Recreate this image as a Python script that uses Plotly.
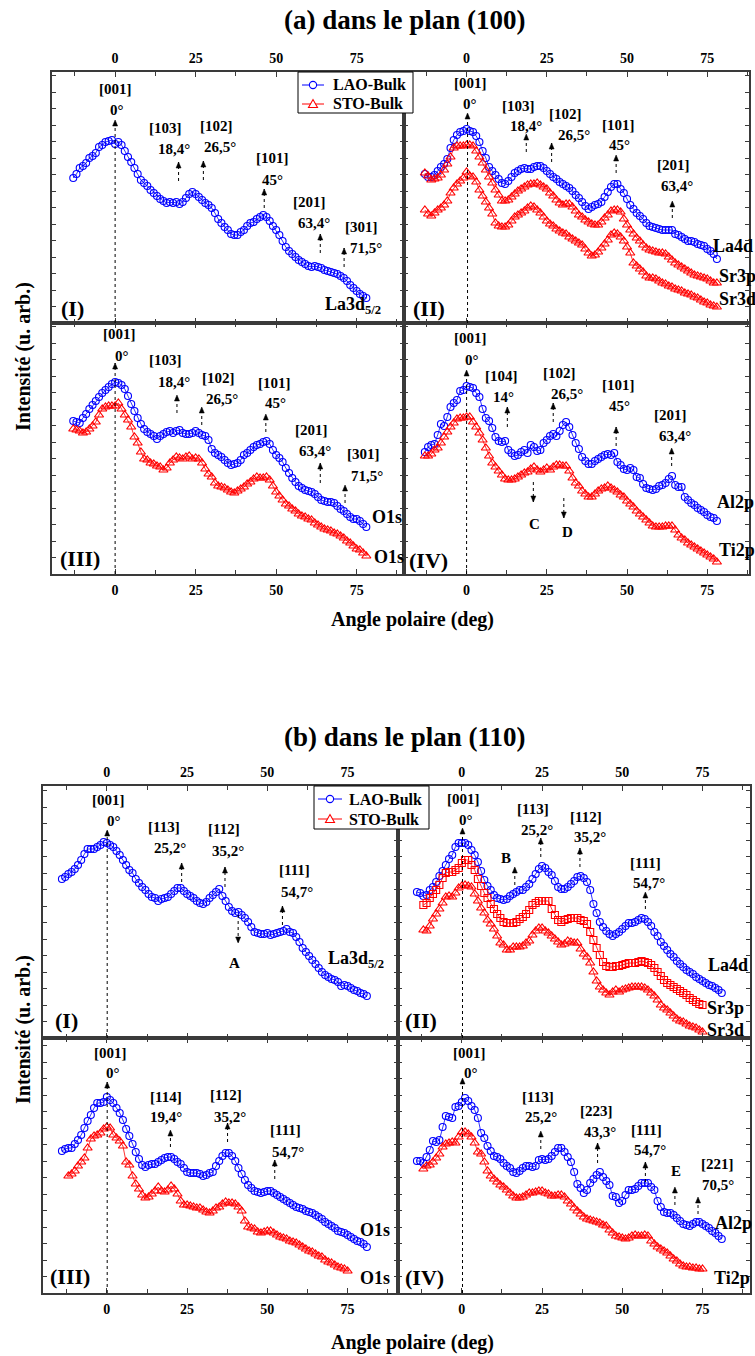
import plotly.graph_objects as go

W, H = 755, 1356
FONT = "Liberation Serif"
BLUE = "#0000FF"
RED = "#FF0000"
AXC = "#3a3a3a"


def fx(px):
    return px / W


def fy(py):
    return 1 - py / H


# ---------------- data (intensity in arbitrary units) ----------------
ANGLES_A = [-13, -12, -11, -10, -9, -8, -7, -6, -5, -4,
            -3, -2, -1, 0, 1, 2, 3, 4, 5, 6,
            7, 8, 9, 10, 11, 12, 13, 14, 15, 16,
            17, 18, 19, 20, 21, 22, 23, 24, 25, 26,
            27, 28, 29, 30, 31, 32, 33, 34, 35, 36,
            37, 38, 39, 40, 41, 42, 43, 44, 45, 46,
            47, 48, 49, 50, 51, 52, 53, 54, 55, 56,
            57, 58, 59, 60, 61, 62, 63, 64, 65, 66,
            67, 68, 69, 70, 71, 72, 73, 74, 75, 76,
            77, 78]

ANGLES_B_BLUE = [-14, -13, -12, -11, -10, -9, -8, -7, -6, -5,
                 -4, -3, -2, -1, 0, 1, 2, 3, 4, 5,
                 6, 7, 8, 9, 10, 11, 12, 13, 14, 15,
                 16, 17, 18, 19, 20, 21, 22, 23, 24, 25,
                 26, 27, 28, 29, 30, 31, 32, 33, 34, 35,
                 36, 37, 38, 39, 40, 41, 42, 43, 44, 45,
                 46, 47, 48, 49, 50, 51, 52, 53, 54, 55,
                 56, 57, 58, 59, 60, 61, 62, 63, 64, 65,
                 66, 67, 68, 69, 70, 71, 72, 73, 74, 75,
                 76, 77, 78, 79, 80, 81]

ANGLES_B_RED = [-12, -11, -10, -9, -8, -7, -6, -5, -4, -3,
                -2, -1, 0, 1, 2, 3, 4, 5, 6, 7,
                8, 9, 10, 11, 12, 13, 14, 15, 16, 17,
                18, 19, 20, 21, 22, 23, 24, 25, 26, 27,
                28, 29, 30, 31, 32, 33, 34, 35, 36, 37,
                38, 39, 40, 41, 42, 43, 44, 45, 46, 47,
                48, 49, 50, 51, 52, 53, 54, 55, 56, 57,
                58, 59, 60, 61, 62, 63, 64, 65, 66, 67,
                68, 69, 70, 71, 72, 73, 74, 75]

# (a) plan (100)
A1_LA3D = [145, 149, 155, 157, 160, 165, 167, 170, 176, 178,
           181, 182, 183, 179, 181, 178, 172, 166, 161, 155,
           149, 143, 140, 137, 133, 130, 127, 124, 122, 120,
           121, 120, 121, 119, 121, 125, 129, 131, 129, 126,
           123, 120, 118, 115, 110, 104, 100, 96, 93, 89,
           88, 88, 91, 93, 97, 100, 101, 104, 106, 108,
           106, 102, 97, 93, 88, 82, 76, 72, 69, 66,
           63, 61, 59, 57, 56, 57, 56, 55, 53, 52,
           51, 50, 49, 47, 45, 42, 38, 35, 32, 29,
           27, 25]

A2_LA4D = [149, 146, 146, 148, 152, 156, 159, 164, 175, 183,
           188, 191, 192, 194, 192, 191, 187, 181, 172, 165,
           156, 152, 148, 144, 140, 139, 142, 146, 150, 152,
           154, 155, 154, 154, 156, 157, 157, 155, 152, 149,
           146, 144, 141, 139, 137, 135, 132, 128, 125, 121,
           117, 114, 116, 118, 119, 121, 126, 131, 136, 139,
           139, 134, 130, 124, 118, 114, 110, 107, 104, 100,
           97, 96, 95, 94, 93, 93, 93, 93, 89, 88,
           86, 84, 82, 82, 81, 79, 78, 77, 74, 72,
           69, 64]

A2_SR3P = [150, 147, 143, 144, 145, 148, 153, 159, 166, 175,
           177, 177, 177, 178, 178, 177, 172, 166, 160, 153,
           146, 140, 133, 128, 122, 122, 123, 126, 129, 132,
           134, 136, 138, 139, 139, 140, 138, 136, 134, 130,
           127, 123, 120, 118, 119, 119, 116, 112, 108, 106,
           103, 101, 99, 98, 98, 101, 105, 108, 112, 113,
           113, 111, 104, 98, 93, 89, 85, 82, 78, 75,
           73, 72, 71, 70, 70, 69, 66, 63, 60, 58,
           56, 54, 52, 50, 48, 47, 46, 45, 44, 42,
           40, 40]

A2_SR3D = [113, 109, 107, 110, 113, 115, 118, 122, 130, 135,
           139, 142, 145, 151, 147, 146, 141, 133, 127, 121,
           115, 109, 100, 97, 96, 96, 98, 102, 106, 108,
           110, 112, 115, 117, 116, 113, 110, 106, 102, 99,
           97, 94, 92, 90, 89, 86, 84, 82, 80, 78,
           74, 70, 67, 68, 71, 75, 79, 83, 88, 90,
           89, 86, 82, 76, 70, 60, 57, 54, 51, 47,
           45, 45, 44, 42, 40, 39, 37, 36, 34, 33,
           32, 30, 29, 28, 26, 25, 23, 21, 20, 18,
           17, 16]

A3_O1S_LAO = [153, 152, 151, 156, 160, 165, 169, 173, 177, 181,
              184, 187, 190, 192, 191, 189, 185, 178, 170, 163,
              156, 150, 145, 142, 140, 138, 135, 138, 140, 142,
              143, 141, 143, 144, 141, 140, 140, 141, 143, 141,
              139, 138, 134, 125, 121, 119, 117, 114, 111, 109,
              110, 111, 114, 119, 121, 124, 127, 129, 130, 132,
              133, 130, 124, 119, 116, 112, 106, 101, 96, 92,
              88, 86, 84, 83, 82, 80, 77, 74, 73, 72,
              72, 71, 68, 65, 63, 60, 57, 55, 55, 53,
              50, 47]

A3_O1S_STO = [145, 144, 143, 141, 142, 145, 148, 152, 159, 165,
              167, 168, 168, 168, 171, 165, 159, 154, 147, 137,
              131, 122, 115, 114, 111, 110, 108, 107, 104, 106,
              111, 114, 117, 116, 115, 117, 118, 115, 116, 115,
              111, 105, 100, 97, 91, 88, 87, 86, 84, 82,
              81, 83, 85, 87, 90, 92, 95, 97, 96, 96,
              97, 94, 88, 82, 78, 74, 70, 68, 65, 63,
              60, 58, 57, 55, 54, 51, 49, 47, 45, 44,
              43, 41, 40, 38, 36, 33, 31, 28, 25, 24,
              21, 18]

A4_AL2P = [122, 127, 129, 130, 139, 150, 148, 157, 167, 171,
           174, 183, 184, 188, 187, 186, 181, 177, 165, 156,
           153, 146, 137, 133, 132, 133, 124, 121, 118, 119,
           122, 124, 121, 129, 127, 123, 124, 131, 134, 138,
           140, 138, 143, 149, 152, 147, 139, 131, 125, 117,
           113, 110, 110, 113, 115, 117, 119, 120, 119, 121,
           112, 109, 105, 104, 106, 104, 97, 96, 90, 86,
           85, 84, 85, 88, 89, 91, 95, 98, 89, 87,
           87, 77, 74, 71, 69, 66, 64, 62, 59, 57,
           56, 53]

A4_TI2P = [118, 118, 120, 124, 126, 131, 137, 142, 147, 151,
           155, 156, 156, 157, 157, 152, 147, 141, 134, 126,
           118, 111, 107, 103, 99, 95, 94, 94, 95, 97,
           99, 101, 102, 105, 107, 104, 102, 104, 106, 104,
           107, 109, 109, 108, 108, 103, 96, 91, 88, 83,
           80, 77, 77, 80, 83, 85, 86, 88, 86, 84,
           82, 79, 77, 73, 70, 67, 63, 60, 57, 54,
           51, 48, 47, 47, 47, 48, 48, 48, 44, 39,
           36, 34, 31, 29, 27, 25, 23, 21, 19, 17,
           15, 12]

# (b) plan (110)
B1_LA3D = [159, 161, 164, 166, 169, 173, 178, 184, 189, 189,
           189, 191, 193, 196, 195, 193, 191, 187, 183, 178,
           173, 168, 165, 159, 155, 151, 148, 144, 141, 140,
           137, 139, 140, 141, 144, 147, 150, 150, 147, 144,
           142, 140, 137, 135, 134, 136, 140, 143, 146, 149,
           142, 137, 131, 127, 125, 126, 123, 120, 116, 111,
           106, 105, 104, 104, 105, 103, 104, 105, 106, 107,
           109, 106, 105, 101, 96, 90, 86, 82, 78, 74,
           70, 66, 63, 61, 59, 58, 56, 52, 53, 52,
           50, 48, 47, 45, 44, 42]

B2_LA4D = [146, 145, 142, 143, 148, 151, 156, 162, 167, 173,
           179, 183, 191, 195, 195, 195, 193, 188, 183, 176,
           167, 158, 152, 148, 143, 140, 139, 138, 139, 142,
           144, 146, 148, 148, 151, 154, 159, 164, 169, 172,
           170, 166, 163, 157, 151, 149, 149, 151, 154, 157,
           161, 162, 160, 156, 148, 134, 125, 116, 111, 107,
           104, 102, 104, 106, 109, 112, 115, 115, 116, 118,
           120, 119, 116, 112, 106, 102, 96, 92, 88, 84,
           81, 77, 74, 71, 68, 66, 64, 61, 59, 57,
           55, 53, 52, 50, 48, 45]

B2_SR3P = [133, 135, 140, 144, 148, 153, 160, 165, 166, 166,
           168, 170, 175, 178, 178, 173, 168, 159, 152, 145,
           140, 134, 129, 124, 120, 116, 115, 115, 115, 116,
           119, 121, 124, 128, 133, 135, 137, 137, 137, 137,
           129, 123, 118, 116, 118, 119, 120, 120, 120, 118,
           117, 114, 106, 98, 90, 83, 76, 72, 71, 71,
           72, 72, 73, 74, 75, 75, 75, 76, 77, 76,
           75, 73, 70, 66, 62, 58, 55, 53, 51, 49,
           47, 45, 43, 40, 38, 36, 34, 33]

B2_SR3D = [108, 107, 112, 119, 124, 129, 135, 141, 142, 141,
           145, 150, 152, 153, 152, 151, 144, 137, 130, 125,
           118, 114, 109, 102, 95, 93, 88, 88, 91, 91,
           91, 92, 95, 97, 103, 107, 110, 110, 107, 105,
           102, 99, 96, 93, 94, 97, 96, 95, 95, 89,
           84, 81, 75, 66, 57, 51, 48, 45, 43, 46,
           48, 46, 48, 49, 50, 51, 51, 51, 51, 50,
           48, 45, 42, 38, 33, 30, 28, 25, 22, 19,
           17, 16, 14, 12, 11, 10, 8, 6]

B3_O1S_LAO = [142, 144, 145, 145, 149, 153, 158, 165, 172, 178,
              185, 190, 190, 191, 196, 193, 190, 185, 180, 173,
              164, 157, 149, 141, 134, 128, 126, 128, 129, 129,
              131, 133, 135, 136, 136, 134, 131, 129, 125, 121,
              120, 120, 120, 119, 117, 118, 120, 121, 127, 132,
              137, 140, 140, 137, 132, 125, 119, 113, 108, 105,
              102, 101, 100, 101, 102, 102, 100, 98, 96, 94,
              92, 90, 88, 86, 85, 84, 82, 81, 80, 78,
              76, 74, 71, 69, 67, 65, 62, 61, 60, 58,
              56, 54, 52, 51, 49, 46]

B3_O1S_STO = [117, 119, 122, 127, 131, 135, 145, 154, 157, 158,
              160, 164, 166, 165, 158, 155, 152, 147, 131, 128,
              117, 109, 104, 98, 95, 96, 99, 102, 106, 102,
              101, 103, 107, 104, 99, 92, 88, 88, 87, 86,
              85, 85, 83, 81, 80, 82, 85, 86, 89, 91,
              90, 90, 89, 86, 82, 72, 66, 65, 64, 61,
              60, 61, 62, 62, 60, 58, 56, 55, 54, 52,
              51, 50, 48, 46, 44, 42, 41, 39, 37, 36,
              33, 31, 30, 28, 26, 25, 24, 22]

B4_AL2P = [132, 132, 130, 136, 143, 152, 151, 153, 166, 177,
           176, 175, 186, 187, 191, 195, 192, 187, 183, 175,
           160, 155, 147, 142, 137, 136, 134, 130, 127, 125,
           121, 120, 122, 125, 127, 127, 126, 127, 133, 134,
           133, 134, 137, 141, 145, 145, 141, 136, 131, 121,
           109, 105, 100, 103, 110, 114, 118, 121, 116, 112,
           108, 97, 96, 90, 92, 98, 103, 103, 104, 107,
           110, 110, 110, 106, 103, 92, 86, 81, 80, 80,
           78, 75, 72, 69, 68, 67, 69, 71, 71, 69,
           67, 65, 62, 60, 57, 54]

B4_TI2P = [124, 127, 128, 131, 135, 139, 146, 149, 150, 151,
           150, 156, 161, 161, 159, 156, 150, 141, 139, 131,
           122, 117, 114, 111, 108, 106, 103, 100, 97, 95,
           95, 96, 98, 100, 100, 101, 102, 102, 100, 99,
           97, 97, 98, 98, 96, 92, 89, 85, 82, 79,
           76, 74, 73, 72, 71, 70, 68, 67, 63, 60,
           57, 56, 55, 54, 55, 57, 58, 57, 57, 58,
           57, 52, 49, 46, 44, 42, 40, 37, 34, 32,
           29, 27, 26, 26, 25, 25, 24, 24]

TICKS = [0, 25, 50, 75]
LEGEND_NAMES = ["LAO-Bulk", "STO-Bulk"]

# ---------------- layout geometry (pixels) ----------------
# id, x0, x1, y0, y1, x-range, y-max, side of x labels
PANELS = [
    (1, 52, 404, 72, 323, [-19.6, 89.7], 251, "top"),
    (2, 404, 749, 72, 323, [-19.5, 88.0], 251, "top"),
    (3, 52, 404, 323, 574, [-19.6, 89.7], 251, "bottom"),
    (4, 404, 749, 323, 574, [-19.5, 88.0], 251, "bottom"),
    (5, 43, 398, 786, 1038, [-19.9, 90.7], 252, "top"),
    (6, 398, 750, 786, 1038, [-19.9, 89.8], 252, "top"),
    (7, 43, 398, 1038, 1293, [-19.9, 90.7], 255, "bottom"),
    (8, 398, 750, 1038, 1293, [-19.9, 89.8], 255, "bottom"),
]


def ax(i, kind):
    return kind if i == 1 else f"{kind}{i}"


fig = go.Figure()


def add_series(panel, x, y, color, symbol, size=7, name=""):
    fig.add_trace(go.Scatter(
        x=x, y=y, xaxis=ax(panel, "x"), yaxis=ax(panel, "y"),
        mode="lines+markers",
        line=dict(color=color, width=0.8),
        marker=dict(symbol=symbol, size=size, color=color,
                    line=dict(color=color, width=1.1)),
        name=name, showlegend=False, cliponaxis=False))


add_series(1, ANGLES_A, A1_LA3D, BLUE, "circle-open", name="La3d5/2 LAO-Bulk")
add_series(2, ANGLES_A, A2_LA4D, BLUE, "circle-open", name="La4d LAO-Bulk")
add_series(2, ANGLES_A, A2_SR3P, RED, "triangle-up-open", 8, name="Sr3p STO-Bulk")
add_series(2, ANGLES_A, A2_SR3D, RED, "triangle-up-open", 8, name="Sr3d STO-Bulk")
add_series(3, ANGLES_A, A3_O1S_LAO, BLUE, "circle-open", name="O1s LAO-Bulk")
add_series(3, ANGLES_A, A3_O1S_STO, RED, "triangle-up-open", 8, name="O1s STO-Bulk")
add_series(4, ANGLES_A, A4_AL2P, BLUE, "circle-open", name="Al2p LAO-Bulk")
add_series(4, ANGLES_A, A4_TI2P, RED, "triangle-up-open", 8, name="Ti2p STO-Bulk")

add_series(5, ANGLES_B_BLUE, B1_LA3D, BLUE, "circle-open", name="La3d5/2 LAO-Bulk")
add_series(6, ANGLES_B_BLUE, B2_LA4D, BLUE, "circle-open", name="La4d LAO-Bulk")
add_series(6, ANGLES_B_RED, B2_SR3P, RED, "square-open", 7, name="Sr3p STO-Bulk")
add_series(6, ANGLES_B_RED, B2_SR3D, RED, "triangle-up-open", 8, name="Sr3d STO-Bulk")
add_series(7, ANGLES_B_BLUE, B3_O1S_LAO, BLUE, "circle-open", name="O1s LAO-Bulk")
add_series(7, ANGLES_B_RED, B3_O1S_STO, RED, "triangle-up-open", 8, name="O1s STO-Bulk")
add_series(8, ANGLES_B_BLUE, B4_AL2P, BLUE, "circle-open", name="Al2p LAO-Bulk")
add_series(8, ANGLES_B_RED, B4_TI2P, RED, "triangle-up-open", 8, name="Ti2p STO-Bulk")

# ---------------- axes ----------------
tickfont = dict(family=FONT, size=14, color="black", weight="bold")
for (i, x0, x1, y0, y1, xr, ymax, side) in PANELS:
    fig.layout[ax(i, "xaxis")] = dict(
        domain=[fx(x0), fx(x1)], range=xr, anchor=ax(i, "y"), side=side,
        tickmode="array", tickvals=TICKS, ticks="inside", ticklen=5,
        tickcolor=AXC, tickwidth=1,
        minor=dict(dtick=12.5, tick0=0, ticks="inside", ticklen=4, tickcolor=AXC),
        showline=True, linecolor=AXC, linewidth=1.5, mirror="ticks",
        showgrid=False, zeroline=False, tickfont=tickfont, ticklabelstandoff=2)
    fig.layout[ax(i, "yaxis")] = dict(
        domain=[fy(y1), fy(y0)], range=[0, ymax], anchor=ax(i, "x"),
        showticklabels=False, ticks="inside", ticklen=4, tickcolor=AXC,
        dtick=16.5, tick0=0,
        showline=True, linecolor=AXC, linewidth=1.5, mirror="ticks",
        showgrid=False, zeroline=False)

# ---------------- annotations ----------------
# labels: (text, x, y) ; arrows: (x, y_tail, y_head) ; zero line head (x, y)
ANN = {
    1: dict(labels=[("[001]", 0.2, 234), ("0°", 0.6, 213), ("[103]", 15.7, 195), ("18,4°", 18.3, 174),
                    ("[102]", 31.4, 197), ("26,5°", 32.6, 176), ("[101]", 49.0, 165), ("45°", 48.9, 143),
                    ("[201]", 60.4, 121), ("63,4°", 61.6, 100), ("[301]", 76.6, 96), ("71,5°", 77.9, 75)],
            arrows=[(19.7, 142, 161), (27.4, 143, 162), (46.3, 115, 134), (63.7, 70, 89), (71.1, 56, 75)],
            zero=(0.0, 203),
            curves=[("La3d<sub>5/2</sub>", 64.6, 17)], roman=("(I)", -17.4, 14)),
    2: dict(labels=[("[001]", 1.2, 240), ("0°", 1.2, 219), ("[103]", 16.1, 217), ("18,4°", 18.6, 197),
                    ("[102]", 30.8, 209), ("26,5°", 33.4, 188), ("[101]", 47.2, 198), ("45°", 47.5, 178),
                    ("[201]", 64.6, 158), ("63,4°", 65.6, 137)],
            arrows=[(18.6, 171, 189), (26.5, 161, 180), (46.6, 150, 168), (64.1, 105, 122)],
            zero=(0.3, 210),
            curves=[("La4d", 76.3, 77), ("Sr3p", 78.1, 47), ("Sr3d", 78.1, 24)], roman=("(II)", -17.4, 14)),
    3: dict(labels=[("[001]", 1.3, 240), ("0°", 2.0, 218), ("[103]", 15.7, 214), ("18,4°", 18.3, 192),
                    ("[102]", 32.1, 196), ("26,5°", 33.1, 175), ("[101]", 49.4, 191), ("45°", 49.7, 171),
                    ("[201]", 60.9, 144), ("63,4°", 62.1, 123), ("[301]", 77.1, 120), ("71,5°", 78.2, 98)],
            arrows=[(19.2, 161, 179), (26.9, 149, 167), (46.8, 142, 160), (63.7, 91, 111), (71.4, 71, 89)],
            zero=(0.0, 211),
            curves=[("O1s", 79.0, 57), ("O1s", 79.7, 17)], roman=("(III)", -17.7, 16)),
    4: dict(labels=[("[001]", 1.2, 236), ("0°", 1.6, 214), ("[104]", 10.9, 198), ("14°", 11.4, 177),
                    ("[102]", 28.8, 201), ("26,5°", 31.4, 180), ("[101]", 47.2, 189), ("45°", 47.5, 168),
                    ("[201]", 63.6, 159), ("63,4°", 64.9, 138), ("C", 21.2, 50), ("D", 31.4, 42)],
            arrows=[(12.7, 147, 167), (27.0, 152, 171), (46.6, 128, 147), (63.9, 108, 126),
                    (20.8, 92, 72), (30.3, 76, 56)],
            zero=(0.0, 204),
            curves=[("Al2p", 77.4, 72), ("Ti2p", 78.1, 24)], roman=("(IV)", -18.6, 14)),
    5: dict(labels=[("[001]", 0.4, 238), ("0°", 2.2, 217), ("[113]", 17.8, 211), ("25,2°", 19.6, 190),
                    ("[112]", 36.4, 209), ("35,2°", 37.8, 187), ("[111]", 58.3, 168), ("54,7°", 59.3, 146),
                    ("A", 39.7, 75)],
            arrows=[(23.3, 156, 175), (36.8, 151, 171), (54.7, 113, 132), (40.9, 123, 95)],
            zero=(0.1, 208),
            curves=[("La3d<sub>5/2</sub>", 68.2, 79)], roman=("(I)", -16.8, 18)),
    6: dict(labels=[("[001]", 0.6, 239), ("0°", 1.2, 218), ("[113]", 22.2, 229), ("25,2°", 23.3, 208),
                    ("[112]", 38.8, 221), ("35,2°", 39.9, 201), ("[111]", 57.3, 175), ("54,7°", 58.4, 155),
                    ("B", 13.7, 180)],
            arrows=[(24.6, 181, 200), (36.8, 171, 190), (57.2, 129, 146), (16.5, 153, 171)],
            zero=(0.2, 210),
            curves=[("La4d", 76.2, 73), ("Sr3p", 75.7, 30), ("Sr3d", 75.7, 8)], roman=("(II)", -18.4, 18)),
    7: dict(labels=[("[001]", 1.2, 240), ("0°", 2.0, 220), ("[114]", 18.3, 196), ("19,4°", 18.3, 176),
                    ("[112]", 37.1, 198), ("35,2°", 38.3, 176), ("[111]", 55.7, 163), ("54,7°", 56.5, 141)],
            arrows=[(19.8, 146, 163), (37.6, 151, 170), (52.3, 114, 133)],
            zero=(0.1, 211),
            curves=[("O1s", 78.3, 63), ("O1s", 78.3, 15)], roman=("(III)", -18.3, 17)),
    8: dict(labels=[("[001]", 2.3, 240), ("0°", 3.0, 220), ("[113]", 23.8, 196), ("25,2°", 24.8, 176),
                    ("[223]", 42.0, 182), ("43,3°", 43.2, 161), ("[111]", 57.5, 163), ("54,7°", 58.6, 143),
                    ("E", 66.7, 122), ("[221]", 79.6, 129), ("70,5°", 79.9, 108)],
            arrows=[(24.6, 144, 162), (42.3, 130, 150), (57.2, 111, 131), (66.4, 88, 106), (73.6, 79, 96)],
            zero=(0.2, 215),
            curves=[("Al2p", 78.3, 70), ("Ti2p", 78.1, 15)], roman=("(IV)", -18.4, 16)),
}

lblfont = dict(family=FONT, size=15, color="black", weight="bold")
curvefont = dict(family=FONT, size=18, color="black", weight="bold")
romanfont = dict(family=FONT, size=22, color="black", weight="bold")

annotations = []
shapes = []
for i, d in ANN.items():
    xr, yr = ax(i, "x"), ax(i, "y")
    for (t, x, y) in d["labels"]:
        annotations.append(dict(text=t, x=x, y=y, xref=xr, yref=yr, showarrow=False,
                                xanchor="center", yanchor="middle", font=lblfont))
    arrow_list = list(d["arrows"]) + [(d["zero"][0], 0, d["zero"][1])]
    for (x, yt, yh) in arrow_list:
        shapes.append(dict(type="line", xref=xr, yref=yr, x0=x, x1=x, y0=yt, y1=yh,
                           line=dict(color="black", width=1, dash="dot")))
        head = "M 0 0 L -2.5 -6 L 2.5 -6 Z" if yh > yt else "M 0 0 L -2.5 6 L 2.5 6 Z"
        shapes.append(dict(type="path", xref=xr, yref=yr, xsizemode="pixel", ysizemode="pixel",
                           xanchor=x, yanchor=yh, path=head, fillcolor="black",
                           line=dict(color="black", width=0.5)))
    for (t, x, y) in d["curves"]:
        annotations.append(dict(text=t, x=x, y=y, xref=xr, yref=yr, showarrow=False,
                                xanchor="left", yanchor="middle", font=curvefont))
    t, x, y = d["roman"]
    annotations.append(dict(text=t, x=x, y=y, xref=xr, yref=yr, showarrow=False,
                            xanchor="left", yanchor="middle", font=romanfont))

titlefont = dict(family=FONT, size=27, color="black", weight="bold")
axtitlefont = dict(family=FONT, size=20, color="black", weight="bold")
for (t, ypx) in [("(a) dans le plan (100)", 20), ("(b) dans le plan (110)", 737)]:
    annotations.append(dict(text=t, x=fx(405), y=fy(ypx), xref="paper", yref="paper",
                            xanchor="center", yanchor="middle", showarrow=False, font=titlefont))
for ypx in [619, 1342]:
    annotations.append(dict(text="Angle polaire (deg)", x=fx(412), y=fy(ypx), xref="paper",
                            yref="paper", xanchor="center", yanchor="middle",
                            showarrow=False, font=axtitlefont))
for ypx in [357, 1030]:
    annotations.append(dict(text="Intensité (u. arb.)", x=fx(23), y=fy(ypx), xref="paper",
                            yref="paper", xanchor="center", yanchor="middle",
                            showarrow=False, textangle=-90, font=axtitlefont))

# ---------------- legends (drawn box, one per section) ----------------
legfont = dict(family=FONT, size=16, color="black", weight="bold")
# box (x0, x1, y0, y1), row centres, line x0/x1, marker centre x, text x
LEGENDS = [
    ((298, 413, 72, 113), (85, 104), (302, 324), 313, 331),
    ((314, 429, 786, 829), (799, 819), (318, 342), 330, 347),
]
for (bx0, bx1, by0, by1), rows, (lx0, lx1), mx, tx in LEGENDS:
    shapes.append(dict(type="rect", xref="paper", yref="paper", layer="above",
                       x0=fx(bx0), x1=fx(bx1), y0=fy(by1), y1=fy(by0),
                       fillcolor="white", line=dict(color="black", width=1)))
    for k, (ry, color) in enumerate(zip(rows, [BLUE, RED])):
        shapes.append(dict(type="line", xref="paper", yref="paper", layer="above",
                           x0=fx(lx0), x1=fx(lx1), y0=fy(ry), y1=fy(ry),
                           line=dict(color=color, width=1)))
        if k == 0:
            shapes.append(dict(type="circle", xref="paper", yref="paper", layer="above",
                               xsizemode="pixel", ysizemode="pixel",
                               xanchor=fx(mx), yanchor=fy(ry), x0=-3.6, x1=3.6, y0=-3.6, y1=3.6,
                               fillcolor="white", line=dict(color=color, width=1.1)))
        else:
            shapes.append(dict(type="path", xref="paper", yref="paper", layer="above",
                               xsizemode="pixel", ysizemode="pixel",
                               xanchor=fx(mx), yanchor=fy(ry),
                               path="M -4.5 -3.5 L 4.5 -3.5 L 0 4.5 Z",
                               fillcolor="white", line=dict(color=color, width=1.1)))
        annotations.append(dict(text=LEGEND_NAMES[k], x=fx(tx), y=fy(ry), xref="paper",
                                yref="paper", xanchor="left", yanchor="middle",
                                showarrow=False, font=legfont))

fig.update_layout(
    width=W, height=H, margin=dict(l=0, r=0, t=0, b=0),
    paper_bgcolor="white", plot_bgcolor="white",
    annotations=annotations, shapes=shapes, showlegend=False,
)

# the page body's default 8 px margin would push the fixed-size figure off the window
fig.write_html("out.html", config={"displayModeBar": False},
               post_script="document.body.style.margin='0px';")
